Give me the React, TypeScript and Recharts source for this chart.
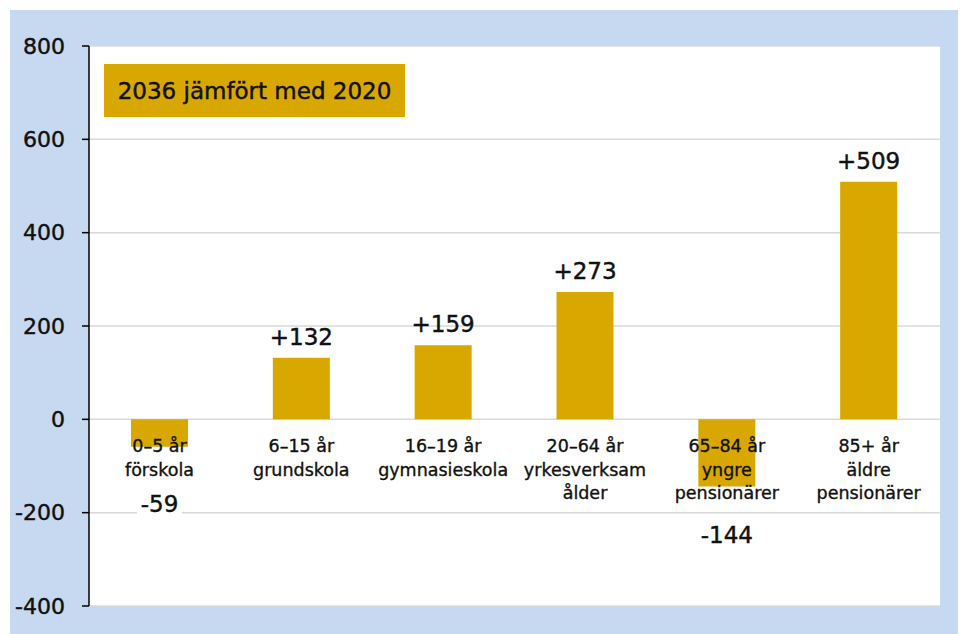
import React from "react";
import { BarChart, Bar, XAxis, YAxis, CartesianGrid, LabelList } from "recharts";

const categoryLines: string[][] = [
  ["0–5 år", "förskola"],
  ["6–15 år", "grundskola"],
  ["16–19 år", "gymnasieskola"],
  ["20–64 år", "yrkesverksam", "ålder"],
  ["65–84 år", "yngre", "pensionärer"],
  ["85+ år", "äldre", "pensionärer"],
];
const values: number[] = [-59, 132, 159, 273, -144, 509];
const yTicks: number[] = [-400, -200, 0, 200, 400, 600, 800];
const legendText = "2036 jämfört med 2020";

const data = categoryLines.map((lines, i) => ({
  name: lines.join(" "),
  value: values[i],
  idx: i,
}));

const FONT = "'DejaVu Sans', sans-serif";
const GOLD = "#d9a800";
const INK = "#111";
const SW = 0.45;

const ValueLabel = (props: any) => {
  const { x, y, width, height, value } = props;
  const top = Math.min(y, y + height);
  const bottom = Math.max(y, y + height);
  const cx = x + width / 2;
  if (value >= 0) {
    return (
      <text x={cx} y={top - 21} textAnchor="middle" dominantBaseline="central"
        fontFamily={FONT} fontSize={23} fill={INK} stroke={INK} strokeWidth={SW}>{`+${value}`}</text>
    );
  }
  const cy = Math.max(bottom + 48, top + 85);
  const txt = `${value}`;
  const w = txt.length * 13 + 6;
  return (
    <g>
      <rect x={cx - w / 2} y={cy - 14} width={w} height={28} fill="#fff" />
      <text x={cx} y={cy} textAnchor="middle" dominantBaseline="central"
        fontFamily={FONT} fontSize={23} fill={INK} stroke={INK} strokeWidth={SW}>{txt}</text>
    </g>
  );
};

const CategoryLabel = (props: any) => {
  const { x, y, width, height, value } = props;
  const lines = categoryLines[value] || [];
  const zero = values[value] >= 0 ? Math.max(y, y + height) : Math.min(y, y + height);
  const cx = x + width / 2;
  return (
    <g>
      {lines.map((ln, j) => (
        <text key={j} x={cx} y={zero + 27 + j * 23.5} textAnchor="middle" dominantBaseline="central"
          fontFamily={FONT} fontSize={17.5} fill={INK} stroke={INK} strokeWidth={0.35}>{ln}</text>
      ))}
    </g>
  );
};

export default function App() {
  return (
    <div style={{ position: "relative", width: 966, height: 634, margin: "-8px 0 0 -8px", background: "#fff" }}>
      <div style={{ position: "absolute", left: 10, top: 10, width: 956, height: 624, background: "#c6d9f0" }}>
        <BarChart width={956} height={624} data={data}
          margin={{ top: 36, right: 26, bottom: 28, left: 19 }} barSize={57}>
          <CartesianGrid vertical={false} stroke="#d9d9d9" strokeWidth={1.5} fill="#ffffff" fillOpacity={1} />
          <XAxis dataKey="name" hide />
          <YAxis domain={[-400, 800]} ticks={yTicks} width={60} interval={0}
            axisLine={{ stroke: "#000", strokeWidth: 1.5 }} tickLine={{ stroke: "#000", strokeWidth: 1.5 }}
            tickSize={7} tickMargin={17}
            tick={{ fill: INK, fontSize: 22, fontFamily: FONT, stroke: INK, strokeWidth: SW }} />
          <Bar dataKey="value" fill={GOLD} isAnimationActive={false}>
            <LabelList dataKey="value" content={ValueLabel} />
            <LabelList dataKey="idx" content={CategoryLabel} />
          </Bar>
        </BarChart>
        <div style={{ position: "absolute", left: 94, top: 54, width: 301, height: 53, background: GOLD,
          display: "flex", alignItems: "center", justifyContent: "center",
          fontFamily: FONT, fontSize: 23, color: INK, WebkitTextStroke: "0.45px #111" }}>{legendText}</div>
      </div>
    </div>
  );
}
